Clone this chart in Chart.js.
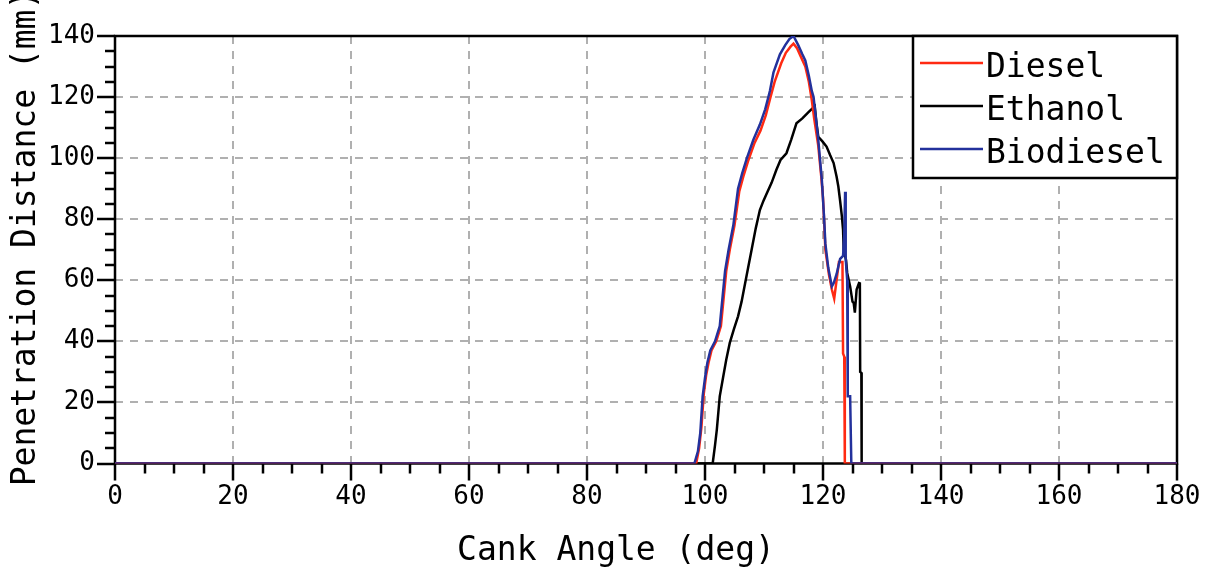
<!DOCTYPE html>
<html><head><meta charset="utf-8">
<script src="https://cdn.jsdelivr.net/npm/chart.js@4"></script>
<style>html,body{margin:0;padding:0;background:#fff;overflow:hidden;}#wrap{width:1205px;height:571px;position:relative;}</style>
</head><body><div id="wrap"><canvas id="c"></canvas></div>
<script>
// ---- data ----
const xTickValues = [0, 20, 40, 60, 80, 100, 120, 140, 160, 180];
const yTickValues = [0, 20, 40, 60, 80, 100, 120, 140];
const xTitle = 'Cank Angle (deg)';
const yTitle = 'Penetration Distance (mm)';
const seriesNames = ['Diesel', 'Ethanol', 'Biodiesel'];

const dieselAngle = [0, 98.5, 99.0, 99.4, 99.8, 100.2, 100.6, 101.1, 101.9, 102.7, 103.2, 103.6, 104.2, 105.0, 105.8, 106.5, 107.3, 108.4, 109.4, 110.3, 111.1, 111.8, 112.9, 113.7, 114.5, 115.0, 115.6, 116.3, 117.0, 117.6, 118.1, 118.5, 119.2, 119.7, 120.0, 120.2, 120.4, 121.0, 121.5, 121.9, 122.3, 122.7, 123.3, 123.4, 123.6, 123.7, 180];
const dieselValue = [0, 0, 5, 12, 23, 29, 33, 37, 40, 45, 55, 63, 70, 78, 89, 94, 99, 105, 109, 114, 120, 125, 131, 134.5, 136.5, 137.5, 136, 133, 130, 125, 119, 113, 104, 94, 87, 79, 70, 62, 57, 54, 60, 66, 66, 36, 35, 0, 0];

const ethanolAngle = [0, 101.3, 101.7, 102.0, 102.5, 103.1, 103.6, 104.2, 104.9, 105.6, 106.2, 106.8, 107.3, 107.9, 108.6, 109.3, 109.9, 110.5, 111.3, 112.1, 112.8, 113.8, 114.6, 115.5, 116.5, 117.5, 118.6, 118.9, 119.2, 119.9, 120.6, 121.2, 121.8, 122.3, 122.6, 122.9, 123.2, 123.4, 123.5, 123.9, 124.1, 124.6, 125.0, 125.2, 125.4, 125.7, 126.1, 126.25, 126.3, 126.5, 126.55, 180];
const ethanolValue = [0, 0, 6, 11, 22, 28.6, 34, 39.5, 44, 48.2, 53, 59, 64, 70, 77, 83, 86, 88.6, 92, 96.2, 99.4, 101.6, 106, 111.4, 113, 115, 117, 111.4, 107, 105.5, 103.8, 101, 98.4, 94, 90.7, 86, 80.9, 76.5, 70, 66.7, 62.4, 58, 53, 52.6, 49.4, 57, 59.1, 59, 30, 29.7, 0, 0];

const biodieselAngle = [0, 98.2, 98.8, 99.2, 99.6, 100.0, 100.4, 100.9, 101.7, 102.5, 103.0, 103.4, 104.0, 104.8, 105.6, 106.3, 107.1, 108.2, 109.3, 110.2, 111.0, 111.6, 112.7, 113.6, 114.3, 115.0, 115.8, 116.5, 117.0, 117.6, 118.1, 118.4, 119.2, 119.8, 120.2, 120.4, 120.9, 121.5, 121.8, 122.3, 122.9, 123.4, 123.6, 123.75, 123.85, 124.1, 124.2, 124.6, 124.8, 180];
const biodieselValue = [0, 0, 4, 10, 22, 28, 33, 37, 40, 45, 55, 63, 70, 78, 90, 95, 100, 106, 111, 116, 122, 128, 134, 137, 139, 140, 137, 134, 132, 127, 122, 120, 106, 93, 80, 72, 64, 58, 59, 62, 67, 68, 75, 89, 67, 60, 22, 22, 0, 0];

const seriesColors = ['#ff2a12', '#000000', '#23319c'];

const toPoints = (xs, ys) => xs.map((x, i) => ({x: x, y: ys[i]}));

const FONT = "'DejaVu Sans Mono', 'Liberation Mono', monospace";
const minorStep = 5;

const framePlugin = {
  id: 'frame',
  beforeDatasetsDraw(chart) {
    const {ctx, chartArea: a, scales: {x, y}} = chart;
    ctx.save();
    ctx.strokeStyle = '#000';
    ctx.lineWidth = 2.5;
    ctx.lineCap = 'butt';
    ctx.beginPath();
    for (let v = x.min; v <= x.max + 1e-9; v += minorStep) {
      const px = Math.round(x.getPixelForValue(v));
      const len = (v % 20 === 0) ? 17 : 10;
      ctx.moveTo(px, a.bottom); ctx.lineTo(px, a.bottom + len);
    }
    for (let v = y.min; v <= y.max + 1e-9; v += minorStep) {
      const py = Math.round(y.getPixelForValue(v));
      const len = (v % 20 === 0) ? 18 : 10;
      ctx.moveTo(a.left - len, py); ctx.lineTo(a.left, py);
    }
    ctx.stroke();
    ctx.strokeRect(a.left, a.top, a.right - a.left, a.bottom - a.top);
    ctx.restore();
  },
  afterDraw(chart) {
    const {ctx, chartArea: a} = chart;
    ctx.save();
    // legend box
    const lw = 264, lh = 142;
    const lx = a.right - lw, ly = a.top;
    ctx.fillStyle = '#fff';
    ctx.fillRect(lx, ly, lw, lh);
    ctx.strokeStyle = '#000';
    ctx.lineWidth = 2.5;
    ctx.strokeRect(lx, ly, lw, lh);
    ctx.font = '33px ' + FONT;
    ctx.textBaseline = 'alphabetic';
    ctx.textAlign = 'left';
    chart.data.datasets.forEach((ds, i) => {
      const base = ly + 41 + i * 43;
      ctx.strokeStyle = ds.borderColor;
      ctx.lineWidth = 2.5;
      ctx.beginPath();
      ctx.moveTo(lx + 7, base - 14);
      ctx.lineTo(lx + 70, base - 14);
      ctx.stroke();
      ctx.fillStyle = '#000';
      ctx.fillText(ds.label, lx + 73, base);
    });
    // axis titles
    ctx.fillStyle = '#000';
    ctx.font = '33px ' + FONT;
    ctx.textAlign = 'center';
    ctx.textBaseline = 'alphabetic';
    ctx.fillText(xTitle, 616, 560);
    ctx.translate(35, 238);
    ctx.rotate(-Math.PI / 2);
    ctx.fillText(yTitle, 0, 0);
    ctx.restore();
  }
};

const gridColor = (c) => {
  const v = c.tick ? c.tick.value : null;
  if (v === null) return 'rgba(0,0,0,0)';
  const s = c.scale;
  return (v === s.min || v === s.max) ? 'rgba(0,0,0,0)' : '#b0b0b0';
};

new Chart(document.getElementById('c'), {
  type: 'line',
  data: {
    datasets: [
      {label: seriesNames[0], data: toPoints(dieselAngle, dieselValue), borderColor: seriesColors[0], order: 1},
      {label: seriesNames[1], data: toPoints(ethanolAngle, ethanolValue), borderColor: seriesColors[1], order: 2},
      {label: seriesNames[2], data: toPoints(biodieselAngle, biodieselValue), borderColor: seriesColors[2], order: 0}
    ]
  },
  options: {
    responsive: true,
    maintainAspectRatio: false,
    animation: false,
    parsing: true,
    elements: {
      line: {borderWidth: 2.5, tension: 0, fill: false},
      point: {radius: 0, hoverRadius: 0}
    },
    layout: {padding: {top: 36, right: 28, left: 0, bottom: 0}},
    plugins: {legend: {display: false}, tooltip: {enabled: false}, title: {display: false}},
    scales: {
      x: {
        type: 'linear', min: 0, max: 180,
        afterBuildTicks: (s) => { s.ticks = xTickValues.map(v => ({value: v})); },
        afterFit: (s) => { s.height = 107.5; s.paddingLeft = 0; s.paddingRight = 0; },
        ticks: {padding: 18, color: '#000', font: {family: FONT, size: 26}, maxRotation: 0, autoSkip: false},
        grid: {drawTicks: false, color: gridColor, lineWidth: 2},
        border: {display: false, dash: [8, 7]}
      },
      y: {
        type: 'linear', min: 0, max: 140,
        afterBuildTicks: (s) => { s.ticks = yTickValues.map(v => ({value: v})); },
        afterFit: (s) => { s.width = 115; s.paddingTop = 0; s.paddingBottom = 0; },
        ticks: {padding: 20, color: '#000', font: {family: FONT, size: 26}, autoSkip: false},
        grid: {drawTicks: false, color: gridColor, lineWidth: 2},
        border: {display: false, dash: [8, 7]}
      }
    }
  },
  plugins: [framePlugin]
});
</script>
</body></html>
